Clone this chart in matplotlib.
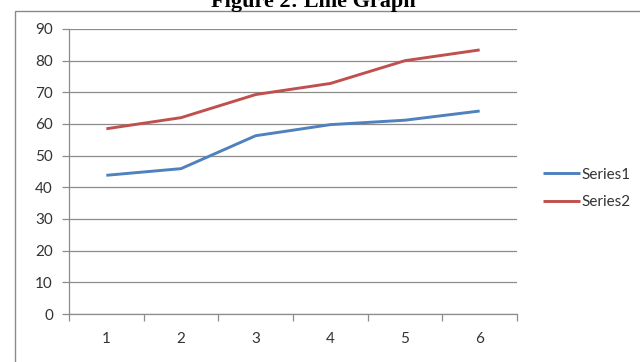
import matplotlib
matplotlib.use("Agg")
import matplotlib.pyplot as plt
from matplotlib.patches import Rectangle

# values per category
categories = [1, 2, 3, 4, 5, 6]
series1 = [43.8, 45.9, 56.3, 59.8, 61.2, 64.1]
series2 = [58.5, 62.0, 69.3, 72.8, 80.0, 83.4]
y_ticks = [0, 10, 20, 30, 40, 50, 60, 70, 80, 90]

plt.rcParams['font.family'] = ['Lato', 'DejaVu Sans']

fig = plt.figure(figsize=(6.4, 3.62), dpi=100)
fig.patch.set_facecolor('white')

# outer chart frame
fig.patches.append(Rectangle((15 / 640, -0.2), 1.2, 1.2 - 11 / 362,
                             transform=fig.transFigure, fill=False,
                             edgecolor='#8a8a8a', linewidth=1.0))

fig.text(0.49, 1 - 7 / 362, "Figure 2: Line Graph", ha='center', va='baseline',
         fontsize=16, fontweight='bold', family='Liberation Serif', color='black')

ax = fig.add_axes([69 / 640, 1 - 314 / 362, 448 / 640, 285 / 362])

ax.plot(categories, series1, color='#4F81BD', linewidth=2.1, label='Series1',
        solid_joinstyle='round', solid_capstyle='butt')
ax.plot(categories, series2, color='#C0504D', linewidth=2.1, label='Series2',
        solid_joinstyle='round', solid_capstyle='butt')

ax.set_xlim(0.5, 6.5)
ax.set_ylim(0, 90)
ax.set_yticks(y_ticks)
ax.yaxis.grid(True, color='#8c8c8c', linewidth=0.9)
ax.set_axisbelow(True)

ax.set_xticks([c - 0.5 for c in categories] + [categories[-1] + 0.5])
ax.set_xticklabels([])
ax.set_xticks(categories, minor=True)
ax.set_xticklabels([str(c) for c in categories], minor=True)

for s in ['top', 'right']:
    ax.spines[s].set_visible(False)
for s in ['left', 'bottom']:
    ax.spines[s].set_color('#8c8c8c')
    ax.spines[s].set_linewidth(0.9)

ax.tick_params(axis='y', length=5, width=0.9, color='#8c8c8c', pad=6.5,
               labelsize=11, labelcolor='#333333')
ax.tick_params(axis='x', which='major', length=5, width=0.9, color='#8c8c8c')
ax.tick_params(axis='x', which='minor', length=0, pad=13,
               labelsize=11, labelcolor='#333333')

fig.legend(loc='center left', bbox_to_anchor=(543 / 640, 1 - 188.5 / 362),
           frameon=False, fontsize=11, handlelength=2.45, handletextpad=0.05,
           borderpad=0, borderaxespad=0, labelspacing=0.88, labelcolor='#333333')

fig.savefig('out.png', dpi=100)
